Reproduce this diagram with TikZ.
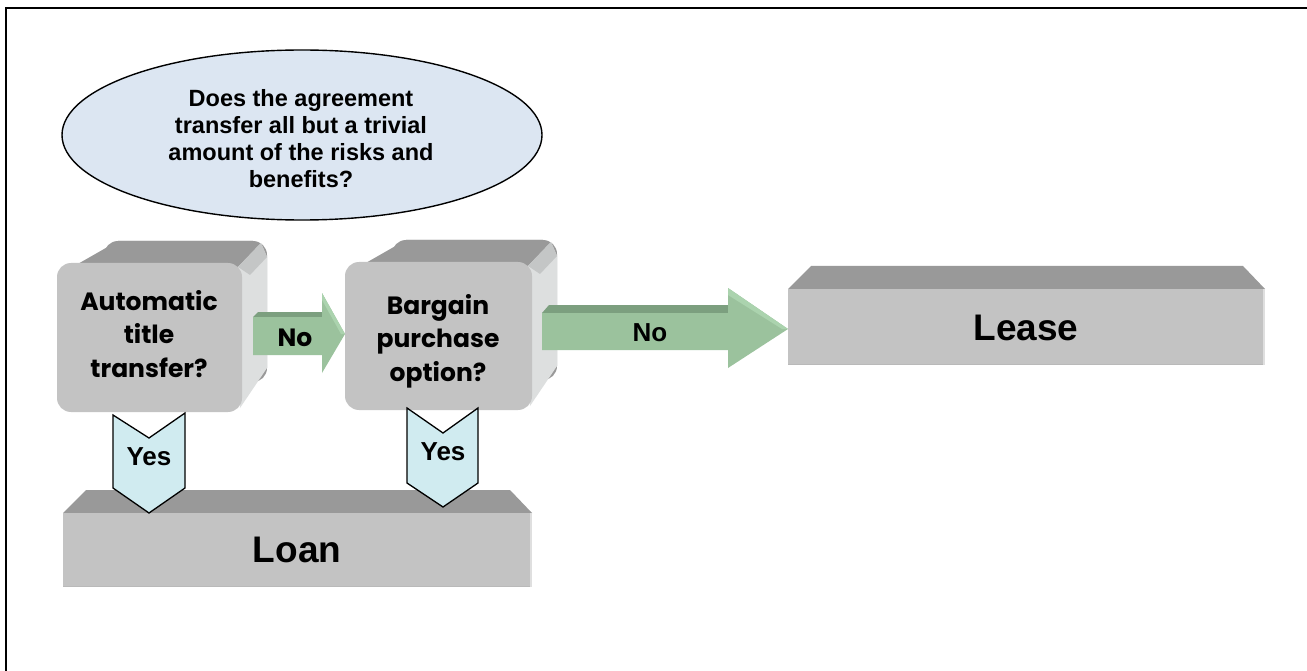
\documentclass[tikz,border=0pt]{standalone}
\usepackage{fontspec}
\setmainfont{Liberation Sans}
\newfontfamily\gothic{Poppins}
\definecolor{frontgray}{HTML}{C3C3C3}
\definecolor{topgray}{HTML}{999999}
\definecolor{sidegray}{HTML}{DDDFDF}
\definecolor{sidedark}{HTML}{C4C6C6}
\definecolor{ellblue}{HTML}{DCE6F2}
\definecolor{arrowgreen}{HTML}{9BC29D}
\definecolor{arrowdark}{HTML}{7C9F7F}
\definecolor{arrowlight}{HTML}{ABD3AE}
\definecolor{chevcyan}{HTML}{D0EBF0}
\newcommand\roundbox[4]{%
  \fill[topgray,rounded corners=14pt] ({#1+47},{#2-22}) rectangle ({#3+25},{#4-30});
  \fill[topgray] ({#1+5},{#2+10}) -- ({#1+61},{#2-22}) -- ({#3+11},{#2-22}) -- (#3,#2) -- cycle;
  \fill[sidegray] ({#3-4},{#2+4}) -- ({#3+19},{#2-20}) -- ({#3+25},{#2-6}) -- ({#3+25},{#4-44}) -- ({#3-2},{#4-4}) -- cycle;
  \fill[sidedark] ({#3-4},{#2+4}) -- ({#3+19},{#2-20}) -- ({#3+25},{#2-6}) -- ({#3+8},{#2+12}) -- cycle;
  \fill[frontgray,rounded corners=14pt] (#1,#2) rectangle (#3,#4);
}
\newcommand\flatbox[4]{%
  \fill[topgray] (#1,#2) -- ({#1+23},{#2-23}) -- ({#3-22},{#2-23}) -- (#3,#2) -- cycle;
  \fill[frontgray] (#1,#2) rectangle (#3,#4);
  \draw[gray!55,line width=1.5pt] ({#1},{#4-0.75}) -- ({#3},{#4-0.75});
  \draw[gray!25,line width=2pt] ({#3-1},{#2}) -- ({#3-1},{#4});
}
\begin{document}
\begin{tikzpicture}[x=1pt,y=-1pt,
  boxtext/.style={font=\gothic\bfseries\fontsize{25}{33.5}\selectfont,align=center,text=black},
  bigtext/.style={font=\bfseries\fontsize{37}{40}\selectfont},
  yestext/.style={font=\bfseries\fontsize{26}{30}\selectfont},
  chev/.style={fill=chevcyan,draw=black,line width=1.3pt,line join=miter}]
\useasboundingbox (0,0) rectangle (1307,671);
\draw[line width=2pt] (6,671) -- (6,8) -- (1307,8);

% question ellipse
\draw[fill=ellblue,line width=1.4pt] (302,135) ellipse [x radius=240pt, y radius=85pt];
\node[font=\bfseries\fontsize{23.5}{27}\selectfont,align=center] (q) at (301,139)
  {Does the agreement\\transfer all but a trivial\\amount of the risks and\\benefits?};

% decision boxes
\roundbox{57}{263}{242}{412}
\node[boxtext] (b1) at (149,334) {Automatic\\title\\transfer?};
\roundbox{345}{262}{532}{410}
\node[boxtext] (b2) at (438,341) {Bargain\\purchase\\option?};

% outcome boxes
\flatbox{788}{289}{1265}{365}
\node[bigtext] (lease) at (1026,328) {Lease};
\flatbox{63}{513}{532}{587}
\node[bigtext] (loan) at (297,550) {Loan};

% No arrow 1
\fill[arrowdark] (253,317) -- (258,312) -- (322,312) -- (322,317) -- cycle;
\fill[arrowgreen] (253,317) -- (322,317) -- (322,293) -- (345,334) -- (322,373) -- (322,355) -- (253,355) -- cycle;
\fill[arrowlight] (322,293) -- (345,334) -- (341,334) -- (322,300) -- cycle;
\node[font=\gothic\bfseries\fontsize{25}{30}\selectfont] (n1) at (295,338) {No};

% No arrow 2
\fill[arrowdark] (542,313) -- (549,305) -- (728,305) -- (728,313) -- cycle;
\fill[arrowgreen] (542,313) -- (728,313) -- (728,288) -- (788,329) -- (728,368) -- (728,350) -- (542,350) -- cycle;
\fill[arrowlight] (728,288) -- (788,329) -- (782,329) -- (728,295) -- cycle;
\node[font=\bfseries\fontsize{26}{30}\selectfont] (n2) at (650,333) {No};

% Yes chevrons
\draw[chev] (113,415) -- (149,438) -- (185,413) -- (185,488) -- (149,513) -- (113,488) -- cycle;
\node[yestext] (y1) at (149,457) {Yes};
\draw[chev] (407,408) -- (443,433) -- (478,408) -- (478,483) -- (443,507) -- (407,483) -- cycle;
\node[yestext] (y2) at (443,452) {Yes};
\end{tikzpicture}
\end{document}
